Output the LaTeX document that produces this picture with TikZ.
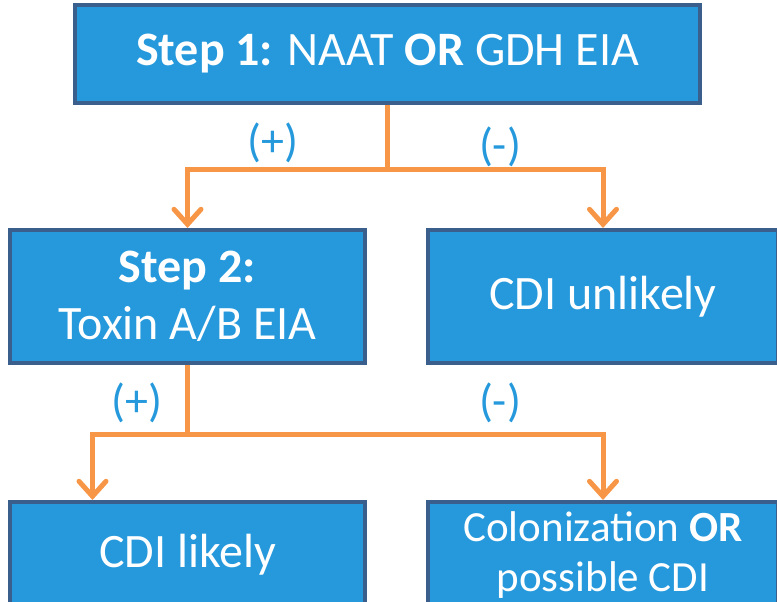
\documentclass[tikz,border=0pt]{standalone}
\usepackage{fontspec}
\setmainfont{Carlito}
\usetikzlibrary{arrows.meta}
\definecolor{boxfill}{HTML}{2599DC}
\definecolor{boxline}{HTML}{3B5F8C}
\definecolor{flow}{HTML}{F79646}
\tikzset{every node/.style={align=center}, >={Straight Barb[length=15pt,width=27pt,line cap=round]},
  testbox/.style={draw=boxline, fill=boxfill, line width=4pt, text=white, inner sep=0pt,
    font=\fontsize{48}{57}\selectfont},
  flowline/.style={draw=flow, line width=5pt},
  result/.style={text=boxfill, font=\fontsize{46}{52}\selectfont}}

\begin{document}
\begin{tikzpicture}[x=1pt, y=-1pt]
            \useasboundingbox (0,0) rectangle (777,602);
            \clip (0,0) rectangle (777,602);
            \node [testbox, minimum width=625pt, minimum height=98pt] (step1) at (387.5,54) {\textbf{Step 1:} NAAT \textbf{OR} GDH EIA};
            \node [testbox, minimum width=355pt, minimum height=133pt] (step2) at (187.5,296.5) {\textbf{Step 2:}\\ Toxin A/B EIA};
            \node [testbox, minimum width=350pt, minimum height=133pt] (unlikely) at (603,296.5) {CDI unlikely};
            \node [testbox, minimum width=355pt, minimum height=106pt] (likely) at (187.5,555) {CDI likely};
            \node [testbox, minimum width=350pt, minimum height=106pt, font=\fontsize{43}{50}\selectfont] (colon) at (603,555) {Colonization \textbf{OR}\\ possible CDI};
            % first test
            \draw [flowline] (step1.south) -- ++(0,64) coordinate (j1);
            \draw [flowline, ->] (j1) -| (step2.north);
            \draw [flowline, ->] (j1) -| (unlikely.north);
            \node [result] (pos1) at (273,143) {(+)};
            \node [result] (neg1) at (500,147) {(-)};
            % second test
            \draw [flowline] (step2.south) -- ++(0,69) coordinate (j2);
            \draw [flowline, ->] (j2) -| ([xshift=-95pt]likely.north);
            \draw [flowline, ->] (j2) -| (colon.north);
            \node [result] (pos2) at (137,403) {(+)};
            \node [result] (neg2) at (500,403) {(-)};
        \end{tikzpicture}
\end{document}
